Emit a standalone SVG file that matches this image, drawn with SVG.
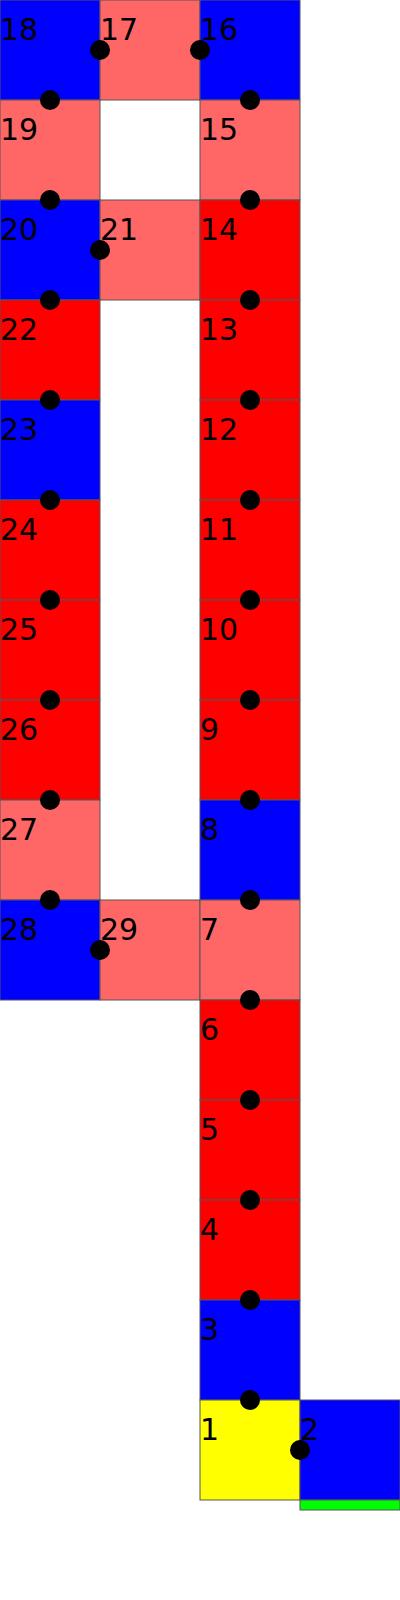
<svg xmlns="http://www.w3.org/2000/svg" width="400" height="1600" viewBox="0 0 400 1600">
<style>
rect{stroke:#555;stroke-width:1}
.b{fill:#0000ff}.s{fill:#ff6666}.r{fill:#ff0000}.y{fill:#ffff00}.g{fill:#00ff00}
text{font-family:"DejaVu Sans",sans-serif;font-size:30px;fill:#000}
circle{fill:#000}
</style>
<rect width="400" height="1600" fill="#fff" style="stroke:none"/>
<g id="n18"><rect class="b" x="0" y="0" width="100" height="100"/><text x="0" y="40">18</text></g>
<g id="n17"><rect class="s" x="100" y="0" width="100" height="100"/><text x="100" y="40">17</text></g>
<g id="n16"><rect class="b" x="200" y="0" width="100" height="100"/><text x="200" y="40">16</text></g>
<g id="n19"><rect class="s" x="0" y="100" width="100" height="100"/><text x="0" y="140">19</text></g>
<g id="n15"><rect class="s" x="200" y="100" width="100" height="100"/><text x="200" y="140">15</text></g>
<g id="n20"><rect class="b" x="0" y="200" width="100" height="100"/><text x="0" y="240">20</text></g>
<g id="n21"><rect class="s" x="100" y="200" width="100" height="100"/><text x="100" y="240">21</text></g>
<g id="n14"><rect class="r" x="200" y="200" width="100" height="100"/><text x="200" y="240">14</text></g>
<g id="n22"><rect class="r" x="0" y="300" width="100" height="100"/><text x="0" y="340">22</text></g>
<g id="n13"><rect class="r" x="200" y="300" width="100" height="100"/><text x="200" y="340">13</text></g>
<g id="n23"><rect class="b" x="0" y="400" width="100" height="100"/><text x="0" y="440">23</text></g>
<g id="n12"><rect class="r" x="200" y="400" width="100" height="100"/><text x="200" y="440">12</text></g>
<g id="n24"><rect class="r" x="0" y="500" width="100" height="100"/><text x="0" y="540">24</text></g>
<g id="n11"><rect class="r" x="200" y="500" width="100" height="100"/><text x="200" y="540">11</text></g>
<g id="n25"><rect class="r" x="0" y="600" width="100" height="100"/><text x="0" y="640">25</text></g>
<g id="n10"><rect class="r" x="200" y="600" width="100" height="100"/><text x="200" y="640">10</text></g>
<g id="n26"><rect class="r" x="0" y="700" width="100" height="100"/><text x="0" y="740">26</text></g>
<g id="n9"><rect class="r" x="200" y="700" width="100" height="100"/><text x="200" y="740">9</text></g>
<g id="n27"><rect class="s" x="0" y="800" width="100" height="100"/><text x="0" y="840">27</text></g>
<g id="n8"><rect class="b" x="200" y="800" width="100" height="100"/><text x="200" y="840">8</text></g>
<g id="n28"><rect class="b" x="0" y="900" width="100" height="100"/><text x="0" y="940">28</text></g>
<g id="n29"><rect class="s" x="100" y="900" width="100" height="100"/><text x="100" y="940">29</text></g>
<g id="n7"><rect class="s" x="200" y="900" width="100" height="100"/><text x="200" y="940">7</text></g>
<g id="n6"><rect class="r" x="200" y="1000" width="100" height="100"/><text x="200" y="1040">6</text></g>
<g id="n5"><rect class="r" x="200" y="1100" width="100" height="100"/><text x="200" y="1140">5</text></g>
<g id="n4"><rect class="r" x="200" y="1200" width="100" height="100"/><text x="200" y="1240">4</text></g>
<g id="n3"><rect class="b" x="200" y="1300" width="100" height="100"/><text x="200" y="1340">3</text></g>
<g id="n1"><rect class="y" x="200" y="1400" width="100" height="100"/><text x="200" y="1440">1</text></g>
<g id="n2"><rect class="b" x="300" y="1400" width="100" height="100"/><rect class="g" x="300" y="1500" width="100" height="10"/><text x="300" y="1440">2</text></g>
<g id="connectors">
<circle cx="300" cy="1450" r="10"/>
<circle cx="250" cy="1400" r="10"/>
<circle cx="250" cy="1300" r="10"/>
<circle cx="250" cy="1200" r="10"/>
<circle cx="250" cy="1100" r="10"/>
<circle cx="250" cy="1000" r="10"/>
<circle cx="250" cy="900" r="10"/>
<circle cx="250" cy="800" r="10"/>
<circle cx="250" cy="700" r="10"/>
<circle cx="250" cy="600" r="10"/>
<circle cx="250" cy="500" r="10"/>
<circle cx="250" cy="400" r="10"/>
<circle cx="250" cy="300" r="10"/>
<circle cx="250" cy="200" r="10"/>
<circle cx="250" cy="100" r="10"/>
<circle cx="200" cy="50" r="10"/>
<circle cx="100" cy="50" r="10"/>
<circle cx="50" cy="100" r="10"/>
<circle cx="50" cy="200" r="10"/>
<circle cx="100" cy="250" r="10"/>
<circle cx="50" cy="300" r="10"/>
<circle cx="50" cy="400" r="10"/>
<circle cx="50" cy="500" r="10"/>
<circle cx="50" cy="600" r="10"/>
<circle cx="50" cy="700" r="10"/>
<circle cx="50" cy="800" r="10"/>
<circle cx="50" cy="900" r="10"/>
<circle cx="100" cy="950" r="10"/>
</g>
</svg>
